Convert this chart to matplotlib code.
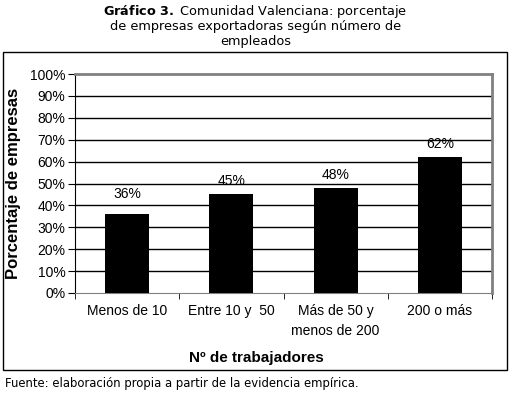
import matplotlib
matplotlib.use("Agg")
import matplotlib.pyplot as plt
import matplotlib.patches as mpatches
import numpy as np

# Data
categories = ["Menos de 10", "Entre 10 y  50", "Más de 50 y\nmenos de 200", "200 o más"]
values = [36, 45, 48, 62]
y_ticks = list(range(0, 101, 10))

plt.rcParams['font.family'] = 'Liberation Sans'

fig = plt.figure(figsize=(5.11, 3.94), dpi=100, facecolor='white')

# outer chart border
fig.patches.append(mpatches.Rectangle(
    (3 / 511, 1 - 370 / 394), 504 / 511, 318 / 394,
    transform=fig.transFigure, fill=False, edgecolor='black', linewidth=1
))

ax = fig.add_axes([75 / 511, 1 - 293 / 394, 417 / 511, 219 / 394])

x = np.arange(len(categories))
ax.bar(x, values, width=0.42, color='black', zorder=3)

# label gap above each bar (in % units), first one sits higher in the original
label_gap = [7.3, 4.2, 4.2, 4.2]
for xi, v, g in zip(x, values, label_gap):
    ax.text(xi, v + g, f"{v}%", ha='center', va='baseline', fontsize=10, zorder=0.5)

ax.set_xlim(-0.5, len(categories) - 0.5)
ax.set_ylim(0, 100)
ax.set_yticks(y_ticks)
ax.set_yticklabels([f"{t}%" for t in y_ticks], fontsize=10)
ax.set_xticks(x)
ax.set_xticklabels(categories, fontsize=10, linespacing=1.5)
ax.tick_params(axis='x', length=0, pad=8)
ax.tick_params(axis='y', length=5, direction='out', pad=2)

# category separators on x axis
ax.set_xticks(np.arange(-0.5, len(categories)), minor=True)
ax.tick_params(axis='x', which='minor', length=4, direction='out', color='black')

for t in y_ticks[1:-1]:
    ax.axhline(t, color='black', linewidth=1, zorder=1)

ax.spines['top'].set_color('#808080')
ax.spines['right'].set_color('#808080')
ax.spines['bottom'].set_color('#808080')
ax.spines['top'].set_linewidth(2)
ax.spines['right'].set_linewidth(2)
ax.spines['left'].set_color('black')

ax.set_ylabel("Porcentaje de empresas", fontsize=12, weight='bold', labelpad=6)
ax.set_xlabel("Nº de trabajadores", fontsize=11, weight='bold', labelpad=8)
ax.xaxis.set_label_coords(0.436, -0.265)

# title
title_kw = dict(ha='center', va='center', fontsize=9.3, family='DejaVu Sans')
fig.text(0.5, 1 - 11 / 394, r"$\bf{Gráfico\ 3.}$ Comunidad Valenciana: porcentaje", **title_kw)
fig.text(0.5, 1 - 26.5 / 394, "de empresas exportadoras según número de", **title_kw)
fig.text(0.5, 1 - 42 / 394, "empleados", **title_kw)

# source
fig.text(5 / 511, 1 - 383 / 394, "Fuente: elaboración propia a partir de la evidencia empírica.",
         ha='left', va='center', fontsize=8.4, family='DejaVu Sans')

plt.savefig("out.png", dpi=100, facecolor='white')
plt.close()
